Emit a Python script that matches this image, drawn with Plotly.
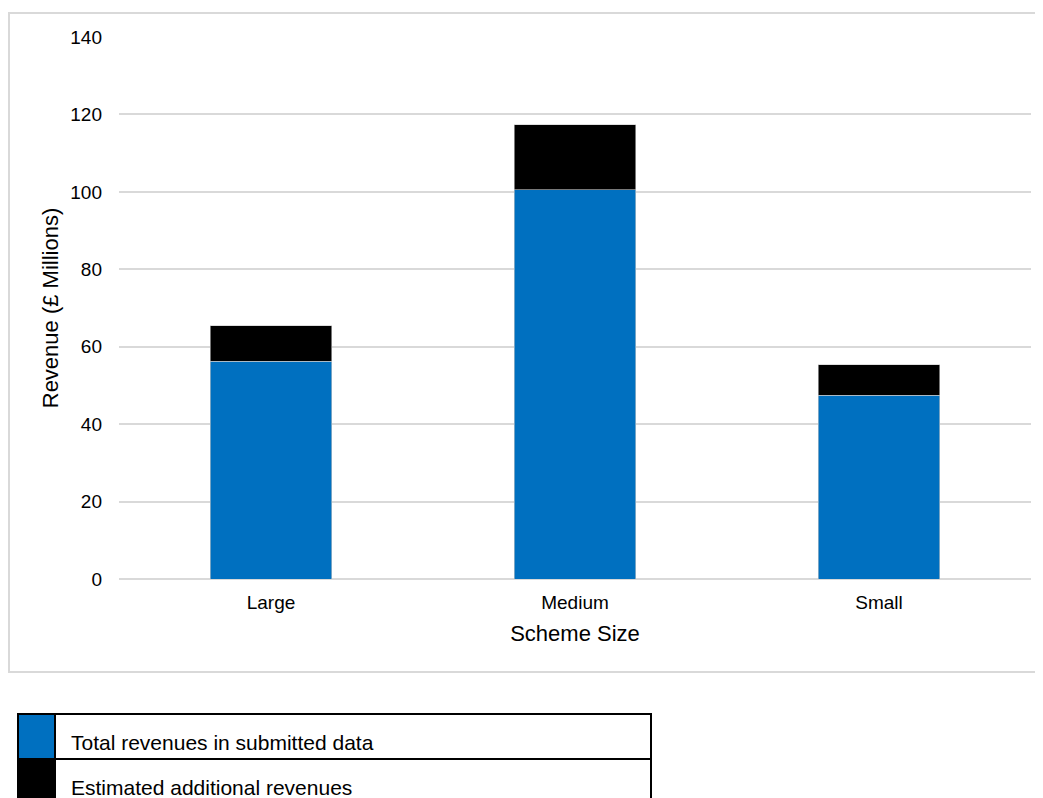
import plotly.graph_objects as go

categories = ["Large", "Medium", "Small"]
submitted = [56.2, 100.6, 47.5]
estimated_additional = [9.2, 16.7, 7.8]
series_names = ["Total revenues in submitted data", "Estimated additional revenues"]
series_colors = ["#0070C0", "#000000"]
y_ticks = [0, 20, 40, 60, 80, 100, 120, 140]

FONT = "Liberation Sans, Arial, sans-serif"

fig = go.Figure()
for name, vals, col in zip(series_names, [submitted, estimated_additional], series_colors):
    fig.add_trace(go.Bar(
        x=categories, y=vals, name=name,
        marker=dict(color=col, line=dict(color="#c8c8c8", width=0.6)),
        showlegend=False,
    ))

OFF = 8  # page body margin
W, H = 1043 - OFF, 798 - OFF
L, R, T, B = 119 - OFF, 12, 37 - OFF, 219
pw, ph = W - L - R, H - T - B

def px(x):
    return (x - OFF - L) / pw

def py(y):
    return (H - B - (y - OFF)) / ph

shapes = []
# outer chart border
shapes.append(dict(type="rect", xref="paper", yref="paper",
                   x0=px(9), x1=px(1050), y0=py(672), y1=py(13),
                   line=dict(color="#d9d9d9", width=2), fillcolor="rgba(0,0,0,0)", layer="below"))
# legend table
rows = [(714, 759), (759, 805)]
annotations = []
for (top, bot), name, col in zip(rows, series_names, series_colors):
    shapes.append(dict(type="rect", xref="paper", yref="paper",
                       x0=px(19), x1=px(55), y0=py(bot), y1=py(top),
                       line=dict(width=0), fillcolor=col))
    shapes.append(dict(type="rect", xref="paper", yref="paper",
                       x0=px(18), x1=px(651), y0=py(bot), y1=py(top),
                       line=dict(color="#000000", width=2), fillcolor="rgba(0,0,0,0)"))
    annotations.append(dict(text=name, xref="paper", yref="paper",
                            x=px(69), y=py(top + 28), xanchor="left", yanchor="middle",
                            showarrow=False, font=dict(family=FONT, size=21, color="#000000")))
shapes.append(dict(type="line", xref="paper", yref="paper",
                   x0=px(55), x1=px(55), y0=py(805), y1=py(714),
                   line=dict(color="#000000", width=2)))

fig.update_layout(
    width=W, height=H,
    margin=dict(l=L, r=R, t=T, b=B),
    paper_bgcolor="white", plot_bgcolor="white",
    barmode="stack", bargap=0.6,
    font=dict(family=FONT, size=19, color="#000000"),
    shapes=shapes, annotations=annotations,
    xaxis=dict(
        title=dict(text="Scheme Size", font=dict(size=22), standoff=13),
        showgrid=False, showline=False, ticks="", tickfont=dict(size=19),
        ticklabelstandoff=10,
    ),
    yaxis=dict(
        title=dict(text="Revenue (£ Millions)", font=dict(size=22), standoff=5),
        range=[0, 140], tickvals=y_ticks, showgrid=True,
        gridcolor="#d9d9d9", gridwidth=2, zeroline=True, zerolinecolor="#d9d9d9",
        zerolinewidth=2, showline=False, ticks="", tickfont=dict(size=19),
        ticklabelstandoff=16,
    ),
)

fig.write_html("out.html")
